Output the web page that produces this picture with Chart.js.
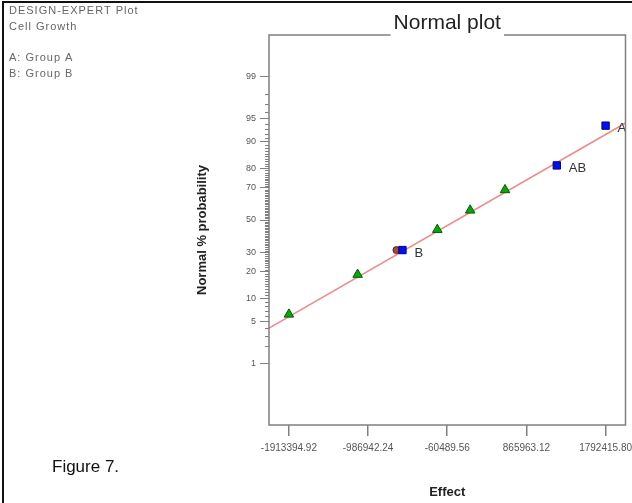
<!DOCTYPE html>
<html>
<head>
<meta charset="utf-8">
<title>Normal plot</title>
<script src="https://cdn.jsdelivr.net/npm/chart.js@4.4.1/dist/chart.umd.min.js"></script>
<style>
  body { margin: 0; background: #fff; }
  canvas { display: block; }
</style>
</head>
<body>
<canvas id="plot" width="632" height="503"></canvas>
<script>
// Normal probability plot of effects (Design-Expert style)

const xTickValues = [-1913394.92, -986942.24, -60489.56, 865963.12, 1792415.80];
const xTickLabels = ['-1913394.92', '-986942.24', '-60489.56', '865963.12', '1792415.80'];
const yTickLabels = [1, 5, 10, 20, 30, 50, 70, 80, 90, 95, 99];

// error estimates (green triangles)
const errorEffects = [-1913394.92, -1109305, -177023, 207544, 615411];
const errorProbs = [6.25, 18.75, 43.75, 56.25, 68.75];

// hidden point behind B
const otherEffects = [-654818];
const otherProbs = [31.25];

// model terms (blue squares)
const termNames = ['B', 'AB', 'A'];
const termEffects = [-584895, 1221381, 1792415.80];
const termProbs = [31.25, 81.25, 93.75];

// fitted line
const fitEffects = [-2146465, 2025486];
const fitProbs = [3.95, 94.26];

const font = 'Liberation Sans, Arial, sans-serif';

// inverse normal cdf (Acklam)
function probit(p) {
    const a = [-3.969683028665376e+01, 2.209460984245205e+02, -2.759285104469687e+02, 1.383577518672690e+02, -3.066479806614716e+01, 2.506628277459239e+00];
    const b = [-5.447609879822406e+01, 1.615858368580409e+02, -1.556989798598866e+02, 6.680131188771972e+01, -1.328068155288572e+01];
    const c = [-7.784894002430293e-03, -3.223964580411365e-01, -2.400758277161838e+00, -2.549732539343734e+00, 4.374664141464968e+00, 2.938163982699295e+00];
    const d = [7.784695709041462e-03, 3.224671290700398e-01, 2.445134137142996e+00, 3.754408661907416e+00];
    const pl = 0.02425;
    if (p < pl) {
        const q = Math.sqrt(-2 * Math.log(p));
        return (((((c[0] * q + c[1]) * q + c[2]) * q + c[3]) * q + c[4]) * q + c[5]) / ((((d[0] * q + d[1]) * q + d[2]) * q + d[3]) * q + 1);
    }
    if (p > 1 - pl) {
        const q = Math.sqrt(-2 * Math.log(1 - p));
        return -(((((c[0] * q + c[1]) * q + c[2]) * q + c[3]) * q + c[4]) * q + c[5]) / ((((d[0] * q + d[1]) * q + d[2]) * q + d[3]) * q + 1);
    }
    const q = p - 0.5, r = q * q;
    return (((((a[0] * r + a[1]) * r + a[2]) * r + a[3]) * r + a[4]) * r + a[5]) * q / (((((b[0] * r + b[1]) * r + b[2]) * r + b[3]) * r + b[4]) * r + 1);
}

const toPoints = (xs, ps) => xs.map((x, i) => ({ x: x, y: probit(ps[i] / 100) }));

const decorations = {
    id: 'decorations',
    beforeDraw(chart) {
        const ctx = chart.ctx;
        ctx.save();
        ctx.fillStyle = '#fff';
        ctx.fillRect(0, 0, chart.width, chart.height);
        ctx.fillStyle = '#111';
        ctx.fillRect(2, 1, 2, chart.height);
        ctx.fillRect(2, 1, chart.width, 2);
        ctx.restore();
    },
    afterDraw(chart) {
        const ctx = chart.ctx;
        const a = chart.chartArea;
        ctx.save();

        // term labels, clipped to the plot frame
        const meta = chart.getDatasetMeta(3);
        ctx.save();
        ctx.beginPath();
        ctx.rect(a.left, a.top, a.right - a.left, a.bottom - a.top);
        ctx.clip();
        ctx.font = '13px ' + font;
        ctx.fillStyle = '#333';
        ctx.textAlign = 'left';
        ctx.textBaseline = 'middle';
        meta.data.forEach((pt, i) => {
            ctx.fillText(termNames[i], pt.x + 12, pt.y + 3);
        });
        ctx.restore();

        // frame with gap for the title
        const cx = (a.left + a.right) / 2;
        ctx.font = '21px ' + font;
        const tw = ctx.measureText('Normal plot').width;
        ctx.strokeStyle = '#808080';
        ctx.lineWidth = 1.5;
        ctx.beginPath();
        ctx.moveTo(cx - tw / 2 - 3, a.top);
        ctx.lineTo(a.left, a.top);
        ctx.lineTo(a.left, a.bottom);
        ctx.lineTo(a.right, a.bottom);
        ctx.lineTo(a.right, a.top);
        ctx.lineTo(cx + tw / 2 + 3, a.top);
        ctx.stroke();

        ctx.fillStyle = '#222';
        ctx.textAlign = 'center';
        ctx.textBaseline = 'middle';
        ctx.fillText('Normal plot', cx, 23);

        // minor ticks on the probability axis
        const ys = chart.scales.y;
        ctx.lineWidth = 1;
        ctx.beginPath();
        for (let p = 1; p <= 99; p++) {
            if (yTickLabels.includes(p)) continue;
            const py = Math.round(ys.getPixelForValue(probit(p / 100))) + 0.5;
            ctx.moveTo(a.left - 4, py);
            ctx.lineTo(a.left, py);
        }
        ctx.stroke();

        // header text
        ctx.fillStyle = '#666';
        ctx.textAlign = 'left';
        ctx.font = '11px ' + font;
        ctx.letterSpacing = '1px';
        ctx.fillText('DESIGN-EXPERT Plot', 9, 11);
        ctx.fillText('Cell Growth', 9, 27);
        ctx.fillText('A: Group A', 9, 58);
        ctx.fillText('B: Group B', 9, 74);
        ctx.letterSpacing = '0px';

        ctx.fillStyle = '#111';
        ctx.font = '17px ' + font;
        ctx.fillText('Figure 7.', 52, 467);
        ctx.restore();
    }
};

new Chart(document.getElementById('plot'), {
    type: 'scatter',
    data: {
        datasets: [
            {
                type: 'line',
                data: toPoints(fitEffects, fitProbs),
                borderColor: '#f08a8a',
                borderWidth: 1.5,
                pointRadius: 0,
                order: 4
            },
            {
                data: toPoints(errorEffects, errorProbs),
                pointStyle: 'triangle',
                pointRadius: 5.5,
                backgroundColor: '#08a808',
                borderColor: '#045a04',
                borderWidth: 1,
                order: 3
            },
            {
                data: toPoints(otherEffects, otherProbs),
                pointStyle: 'circle',
                pointRadius: 3.5,
                backgroundColor: '#a8483a',
                borderColor: '#5a2018',
                borderWidth: 1,
                order: 2
            },
            {
                data: toPoints(termEffects, termProbs),
                pointStyle: 'rect',
                pointRadius: 5.2,
                backgroundColor: '#0010f0',
                borderColor: '#000080',
                borderWidth: 1,
                order: 1
            }
        ]
    },
    options: {
        responsive: false,
        animation: false,
        layout: { padding: { top: 35, left: 0, right: 5, bottom: 0 } },
        plugins: {
            legend: { display: false },
            tooltip: { enabled: false }
        },
        scales: {
            x: {
                type: 'linear',
                min: -2146465,
                max: 2025486,
                afterBuildTicks: s => { s.ticks = xTickValues.map(v => ({ value: v })); },
                afterFit: s => { s.height = 78; s.paddingLeft = 0; s.paddingRight = 0; },
                ticks: {
                    autoSkip: false,
                    maxRotation: 0,
                    padding: 6,
                    color: '#555',
                    font: { family: font, size: 10 },
                    callback: (v, i) => xTickLabels[i]
                },
                grid: { drawOnChartArea: false, tickLength: 11, color: '#808080', lineWidth: 1.5 },
                border: { display: false },
                title: {
                    display: true,
                    text: 'Effect',
                    color: '#222',
                    font: { family: font, size: 13, weight: 'bold' },
                    padding: { top: 0, bottom: 3 }
                }
            },
            y: {
                type: 'linear',
                min: -3.333,
                max: 3.008,
                afterBuildTicks: s => { s.ticks = yTickLabels.map(p => ({ value: probit(p / 100) })); },
                afterFit: s => { s.width = 269; s.paddingTop = 0; s.paddingBottom = 0; },
                ticks: {
                    autoSkip: false,
                    padding: 4,
                    color: '#555',
                    font: { family: font, size: 9 },
                    callback: (v, i) => String(yTickLabels[i])
                },
                grid: { drawOnChartArea: false, tickLength: 9, color: '#808080', lineWidth: 1 },
                border: { display: false },
                title: {
                    display: true,
                    text: 'Normal % probability',
                    color: '#222',
                    font: { family: font, size: 13, weight: 'bold' },
                    padding: { top: 195, bottom: 0 }
                }
            }
        }
    },
    plugins: [decorations]
});
</script>
</body>
</html>
